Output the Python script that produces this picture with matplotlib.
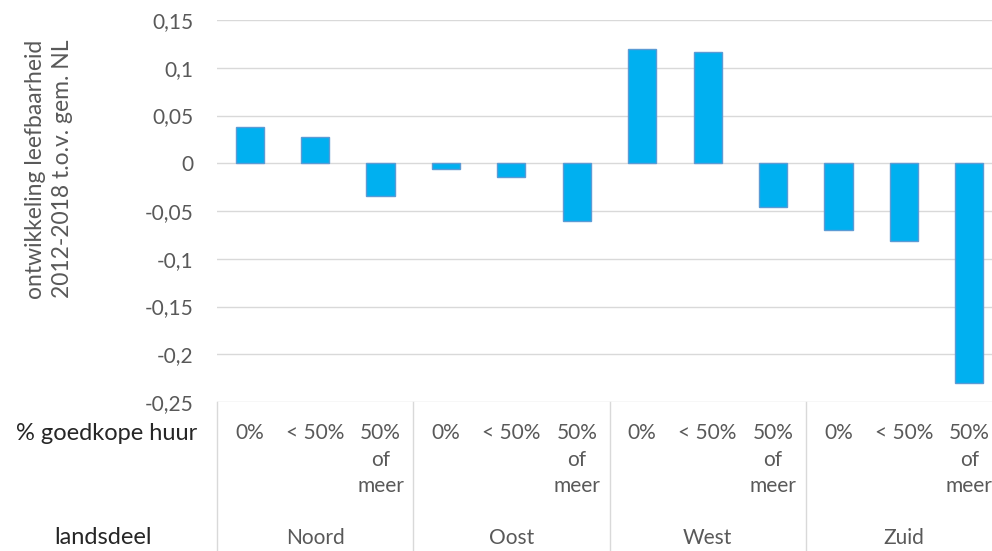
import numpy as np
from matplotlib import pyplot as plt
import matplotlib.transforms as mtransforms
from matplotlib.lines import Line2D

plt.rcParams['font.family'] = ['Lato', 'DejaVu Sans']

# data
regions = ["Noord", "Oost", "West", "Zuid"]
rent_classes = ["0%", "< 50%", "50%\nof\nmeer"]
values = [0.038, 0.027, -0.034,
          -0.006, -0.014, -0.060,
          0.120, 0.116, -0.046,
          -0.070, -0.081, -0.230]
yticks = [-0.25, -0.2, -0.15, -0.1, -0.05, 0, 0.05, 0.1, 0.15]

W, H = 992, 551
fig = plt.figure(figsize=(W / 100, H / 100), dpi=100)
ax = fig.add_axes([217 / W, 1 - 402 / H, (1002 - 217) / W, (402 - 20) / H])

x = np.arange(len(values))
ax.bar(x, values, width=0.43, color="#00B0F0", edgecolor="#5B9BD5", linewidth=1, zorder=3)

ax.set_xlim(-0.5, len(values) - 0.5)
ax.set_ylim(-0.25, 0.15)
ax.set_yticks(yticks)
ax.set_yticklabels([("%g" % v).replace(".", ",") for v in yticks])
ax.tick_params(axis="y", length=0, pad=17, labelsize=15, labelcolor="#595959")
ax.set_xticks([])
for s in ax.spines.values():
    s.set_visible(False)
ax.grid(axis="y", color="#D9D9D9", linewidth=1)
ax.set_axisbelow(True)

fig.text(49 / W, 1 - 169 / H, "ontwikkeling leefbaarheid\n2012-2018 t.o.v. gem. NL",
         rotation=90, ha="center", va="center", fontsize=16.5, color="#595959",
         linespacing=1.4)

# multi-level category table below the plot
tr = mtransforms.blended_transform_factory(ax.transData, fig.transFigure)
y_top = 1 - 402 / H
for i in range(len(regions) + 1):
    xb = i * len(rent_classes) - 0.5
    if xb > len(values) - 0.5:
        continue
    fig.add_artist(Line2D([xb, xb], [y_top, 0], transform=tr, color="#D9D9D9", linewidth=1))

for i, v in enumerate(values):
    lab = rent_classes[i % len(rent_classes)]
    ax.text(i, 1 - 423 / H, lab, transform=tr, ha="center", va="top", fontsize=15,
            color="#595959", linespacing=1.42)

for g, name in enumerate(regions):
    xc = g * len(rent_classes) + 1
    ax.text(xc, 1 - 538 / H, name, transform=tr, ha="center", va="center", fontsize=15,
            color="#595959")

fig.text(197 / W, 1 - 433 / H, "% goedkope huur", ha="right", va="center", fontsize=17,
         color="#262626")
fig.text(103 / W, 1 - 538 / H, "landsdeel", ha="center", va="center", fontsize=17,
         color="#262626")

fig.savefig("out.png", dpi=100)
